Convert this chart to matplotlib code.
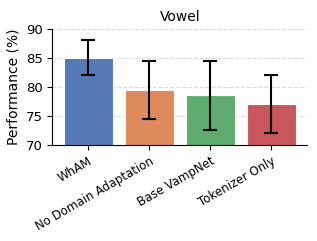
import matplotlib
matplotlib.use("Agg")
import matplotlib.pyplot as plt
import seaborn as sns

methods = ["WhAM", "No Domain Adaptation", "Base VampNet", "Tokenizer Only"]
scores = [85.0, 79.5, 78.5, 77.0]
errors = [3.0, 5.0, 6.0, 5.0]

colors = sns.color_palette("deep", 4)

fig, ax = plt.subplots(figsize=(3.17, 2.41), dpi=100)
ax.bar(range(len(methods)), scores, width=0.8, color=colors, alpha=0.95,
       edgecolor="white", linewidth=0.8, zorder=2)
ax.errorbar(range(len(methods)), scores, yerr=errors, fmt="none",
            ecolor="black", elinewidth=1.5, capsize=5, capthick=1.5, zorder=3)
ax.set_ylim(70, 90)
ax.set_yticks([70, 75, 80, 85, 90])
ax.set_xticks(range(len(methods)))
ax.set_xticklabels(methods, rotation=30, ha="right", rotation_mode="anchor", fontsize=8.5)
ax.tick_params(axis="y", labelsize=9.5)
ax.set_ylabel("Performance (%)", fontsize=10)
ax.set_title("Vowel", fontsize=10)
ax.grid(axis="y", linestyle="--", alpha=0.45, zorder=0)
ax.set_axisbelow(True)
ax.spines["top"].set_visible(False)
ax.spines["right"].set_visible(False)
fig.subplots_adjust(left=0.165, right=0.97, top=0.88, bottom=0.40)
fig.savefig("out.png", dpi=100)
